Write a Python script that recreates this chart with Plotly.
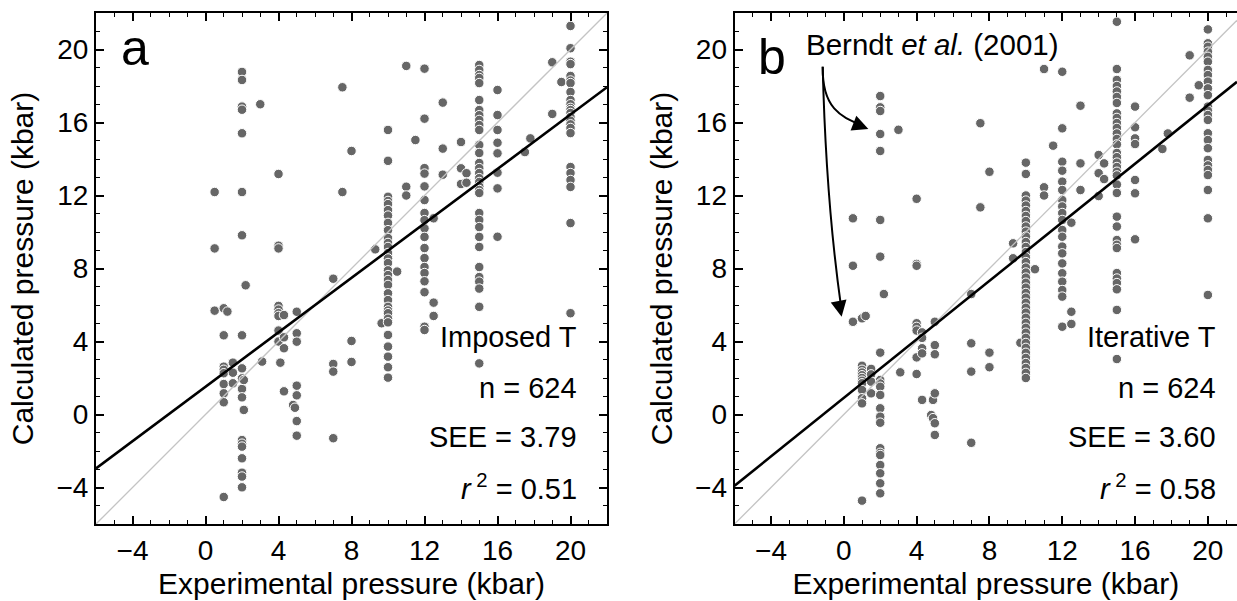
import plotly.graph_objects as go

# ---------------- Panel a (Imposed T) ----------------
a_exp = [0.5, 1.0, 1.2, 1.5, 2.0, 2.1, 2.2, 3.0, 3.1, 4.0, 4.1, 4.3, 4.8, 4.9, 5.0,
         7.0, 7.5, 8.0, 9.3, 9.65, 10.0, 10.5, 11.0, 11.5, 12.0, 12.5, 13.0, 14.0,
         14.3, 15.0, 16.0, 17.5, 17.8, 19.0, 19.5, 20.0]
a_calc = [
    [12.19, 9.10, 5.69],
    [5.82, 4.34, 2.62, 2.45, 2.26, 1.67, 1.16, 0.67, -4.52],
    [5.64],
    [2.84, 2.29, 1.71],
    [18.77, 18.33, 16.87, 16.70, 15.41, 12.19, 9.82, 4.34, 2.53, 1.98, 1.40, 0.94,
     -1.40, -1.60, -1.76, -2.40, -3.19, -3.40, -3.99],
    [1.89, 0.25],
    [7.08],
    [17.00],
    [2.90],
    [13.18, 9.25, 9.10, 5.95, 5.75, 5.55, 5.40, 4.60, 4.00],
    [2.84],
    [5.45, 4.23, 3.63, 1.27],
    [0.52],
    [0.37],
    [5.63, 4.45, 3.99, 1.58, 1.05, -0.36, -1.16],
    [7.44, 2.77, 2.35, -1.30],
    [17.93, 12.19],
    [14.44, 4.03, 2.88],
    [9.05],
    [5.00],
    [15.59, 13.90, 11.93, 11.70, 11.53, 11.20, 10.90, 10.50, 10.10, 9.67, 9.40, 9.18,
     8.85, 8.55, 8.30, 7.90, 7.64, 7.37, 7.10, 6.64, 6.27, 5.90, 5.70, 5.55, 5.25,
     5.05, 4.36, 3.72, 3.17, 2.59, 2.02],
    [7.83],
    [19.10, 12.48, 12.00],
    [15.04],
    [18.95, 16.21, 13.50, 13.20, 12.50, 11.75, 11.04, 10.65, 10.20, 9.73, 9.12, 8.57,
     8.08, 7.75, 7.30, 6.70, 4.81, 4.63],
    [10.75, 6.13, 5.40],
    [17.09, 14.57, 13.14],
    [14.93, 13.49, 12.63],
    [13.22, 12.70],
    [19.15, 18.88, 18.60, 18.44, 18.16, 17.23, 16.68, 16.40, 16.14, 15.86, 15.59, 14.77,
     14.33, 13.78, 13.50, 13.23, 12.95, 12.74, 12.50, 12.30, 12.14, 11.04, 10.66, 10.27,
     9.73, 9.18, 8.08, 7.53, 7.28, 6.90, 5.90, 2.80],
    [17.78, 16.41, 15.59, 14.89, 14.31, 13.25, 12.39, 9.74],
    [14.38],
    [15.13],
    [19.30, 16.47],
    [18.22],
    [21.29, 20.07, 19.33, 19.20, 18.55, 18.30, 18.16, 17.67, 17.23, 17.00, 16.80, 16.68,
     16.52, 16.30, 16.10, 15.90, 15.70, 15.42, 13.56, 13.23, 12.85, 12.47, 10.49, 5.55],
]
a_fit = (0.746, 1.52)          # slope, intercept
a_stats = ["Imposed T", "n = 624", "SEE = 3.79", "<i>r</i><sup> 2</sup> = 0.51"]

# ---------------- Panel b (Iterative T) ----------------
b_exp = [0.5, 1.0, 1.2, 1.5, 2.0, 2.2, 3.0, 3.1, 4.0, 4.3, 4.8, 4.9, 5.0, 7.0, 7.5,
         8.0, 9.3, 9.7, 10.0, 10.5, 11.0, 11.5, 12.0, 12.5, 13.0, 14.0, 14.3, 15.0,
         16.0, 17.5, 17.8, 19.0, 19.5, 20.0]
b_calc = [
    [10.75, 8.15, 5.08],
    [5.27, 2.67, 2.45, 2.30, 2.15, 2.00, 1.85, 1.71, 1.34, 0.89, 0.61, -4.72],
    [5.40],
    [2.50, 2.20, 1.80, 1.16],
    [17.45, 16.83, 16.63, 15.37, 14.44, 10.66, 8.65, 3.39, 1.89, 1.70, 1.52, 1.07, 0.34,
     -0.12, -0.45, -1.85, -2.10, -2.22, -2.77, -3.22, -3.77, -4.32],
    [6.60],
    [15.60],
    [2.31],
    [11.82, 8.25, 8.15, 5.00, 4.80, 4.60, 3.13, 2.22],
    [4.50, 4.20, 3.63, 3.35, 0.80],
    [-0.03],
    [0.80, -0.20],
    [5.08, 3.80, 3.30, 1.16, -0.48, -1.12],
    [6.60, 3.90, 2.35, -1.55],
    [15.96, 11.35],
    [13.30, 3.39, 2.59],
    [9.38, 8.56],
    [3.93],
    [13.80, 13.18, 12.00, 11.72, 11.45, 11.15, 10.88, 10.60, 10.30, 10.02, 9.75, 9.45,
     9.18, 8.90, 8.62, 8.35, 8.05, 7.78, 7.50, 7.22, 6.95, 6.66, 6.40, 6.12, 5.85, 5.58,
     5.30, 5.02, 4.75, 4.48, 4.20, 3.92, 3.65, 3.38, 3.10, 2.82, 2.55, 2.28, 2.00],
    [7.96],
    [18.93, 12.45, 12.00],
    [14.73],
    [18.78, 15.68, 13.85, 13.36, 12.76, 12.30, 11.75, 11.40, 11.04, 10.66, 10.11, 9.74,
     9.20, 8.83, 8.28, 7.74, 7.28, 6.82, 6.46, 4.81],
    [10.51, 5.63, 4.96],
    [16.92, 13.76, 12.30],
    [14.22, 13.22, 11.97],
    [13.76, 12.90],
    [21.52, 18.93, 18.33, 18.00, 17.70, 17.40, 17.07, 16.50, 16.25, 15.97, 15.70, 15.40,
     15.10, 14.80, 14.33, 14.10, 13.80, 13.56, 13.30, 13.10, 12.60, 12.14, 10.84, 10.30,
     9.56, 9.30, 9.12, 7.75, 7.45, 7.20, 6.86, 5.73, 3.04],
    [16.87, 15.74, 15.13, 14.82, 12.85, 12.12, 9.60],
    [14.55],
    [15.40],
    [19.68, 17.36],
    [18.04],
    [21.10, 20.34, 20.15, 19.88, 19.60, 19.33, 18.88, 18.60, 18.24, 17.87, 17.50, 16.87,
     16.65, 16.41, 16.14, 15.41, 15.04, 14.59, 13.95, 13.65, 13.40, 13.12, 12.30, 10.75,
     6.55],
]
b_fit = (0.802, 0.91)
b_stats = ["Iterative T", "n = 624", "SEE = 3.60", "<i>r</i><sup> 2</sup> = 0.58"]

# ---------------- styling ----------------
FONT = "Liberation Sans, Arial, sans-serif"
PT_COLOR = "#666666"
X_RANGE_A = [-6, 22]
X_RANGE_B = [-6, 21.6]
Y_RANGE = [-6, 22]


def flatten(exp, calc):
    xs, ys = [], []
    for x, col in zip(exp, calc):
        for y in col:
            xs.append(x)
            ys.append(y)
    return xs, ys


fig = go.Figure()

panels = [
    ("x", "y", a_exp, a_calc, a_fit, X_RANGE_A),
    ("x2", "y2", b_exp, b_calc, b_fit, X_RANGE_B),
]
for xa, ya, exp, calc, fit, xr in panels:
    xs, ys = flatten(exp, calc)
    fig.add_trace(go.Scatter(
        x=xs, y=ys, mode="markers", xaxis=xa, yaxis=ya, showlegend=False,
        marker=dict(size=9.5, color=PT_COLOR, line=dict(color="white", width=1)),
        hoverinfo="skip"))
    # 1:1 line
    fig.add_trace(go.Scatter(
        x=[xr[0], xr[1]], y=[xr[0], xr[1]], mode="lines", xaxis=xa, yaxis=ya,
        showlegend=False, line=dict(color="#c4c4c4", width=1.3), hoverinfo="skip"))
    # regression line
    s, b = fit
    fig.add_trace(go.Scatter(
        x=[xr[0], xr[1]], y=[s * xr[0] + b, s * xr[1] + b], mode="lines",
        xaxis=xa, yaxis=ya, showlegend=False,
        line=dict(color="black", width=2.6), hoverinfo="skip"))

axis_common = dict(
    showgrid=False, zeroline=False, showline=True, linecolor="black", linewidth=2,
    ticks="inside", ticklen=8, tickwidth=1.5, tickcolor="black",
    dtick=4, tick0=0,
    minor=dict(ticks="inside", ticklen=4, tickwidth=1.2, tickcolor="black", dtick=1),
    tickfont=dict(family=FONT, size=28, color="black"),
    title_font=dict(family=FONT, size=30, color="black"),
)

W, H = 1237, 601
ya_dom = [1 - 524 / H, 1 - 13 / H]
fig.update_layout(
    width=W, height=H,
    margin=dict(l=0, r=0, t=0, b=0),
    paper_bgcolor="white", plot_bgcolor="white",
    font=dict(family=FONT, color="black"),
    xaxis=dict(axis_common, domain=[96 / W, 607 / W], range=X_RANGE_A, mirror="ticks",
               anchor="y", title=dict(text="Experimental pressure (kbar)", standoff=8)),
    yaxis=dict(axis_common, domain=ya_dom, range=Y_RANGE, mirror="ticks", anchor="x",
               title=dict(text="Calculated pressure (kbar)", standoff=14)),
    xaxis2=dict(axis_common, domain=[734.6 / W, 1.0], range=X_RANGE_B, mirror="ticks",
                anchor="y2", title=dict(text="Experimental pressure (kbar)", standoff=8)),
    yaxis2=dict(axis_common, domain=ya_dom, range=Y_RANGE, mirror=False, anchor="x2",
                title=dict(text="Calculated pressure (kbar)", standoff=14)),
)

# statistics text blocks
stat_y = [4.25, 1.45, -1.23, -3.95]
for xa, ya, stats, xr_right in [("x", "y", a_stats, 20.49), ("x2", "y2", b_stats, 20.56)]:
    for txt, yy in zip(stats, stat_y):
        fig.add_annotation(x=xr_right, y=yy, xref=xa, yref=ya, text=txt, showarrow=False,
                           xanchor="right", yanchor="middle", bgcolor="white",
                           borderpad=1, font=dict(family=FONT, size=29, color="black"))

# panel letters
fig.add_annotation(x=-3.85, y=20.06, xref="x", yref="y", text="a", showarrow=False,
                   xanchor="center", yanchor="middle",
                   font=dict(family=FONT, size=50, color="black"))
fig.add_annotation(x=-3.95, y=19.57, xref="x2", yref="y2", text="b", showarrow=False,
                   xanchor="center", yanchor="middle",
                   font=dict(family=FONT, size=50, color="black"))

# Berndt et al. label with curved arrows
fig.add_annotation(x=-2.2, y=20.3, xref="x2", yref="y2",
                   text="Berndt <i>et al.</i> (2001)", showarrow=False,
                   xanchor="left", yanchor="middle",
                   font=dict(family=FONT, size=29.5, color="black"))
fig.add_shape(type="path", xref="x2", yref="y2", layer="above",
              path="M -1.16,19.06 C -1.20,16.58 0.07,16.25 1.10,15.80",
              line=dict(color="black", width=2))
fig.add_shape(type="path", xref="x2", yref="y2", layer="above",
              path="M -1.16,19.06 Q -0.98,11.75 -0.15,5.9",
              line=dict(color="black", width=2))
fig.add_annotation(x=1.35, y=15.65, xref="x2", yref="y2", text="", showarrow=True,
                   ax=-13, ay=-5, arrowhead=2, arrowsize=1.6, arrowwidth=2,
                   arrowcolor="black", standoff=0)
fig.add_annotation(x=-0.12, y=5.36, xref="x2", yref="y2", text="", showarrow=True,
                   ax=-2.5, ay=-13, arrowhead=2, arrowsize=1.6, arrowwidth=2,
                   arrowcolor="black", standoff=0)

fig.write_html("out.html")
